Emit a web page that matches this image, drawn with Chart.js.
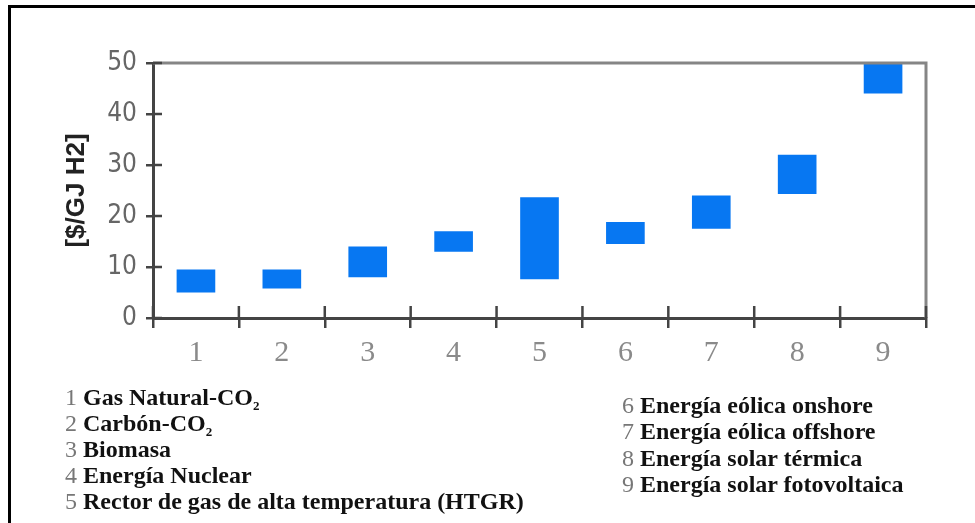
<!DOCTYPE html>
<html>
<head>
<meta charset="utf-8">
<script src="https://cdn.jsdelivr.net/npm/chart.js@4/dist/chart.umd.min.js"></script>
<style>
  html, body { margin: 0; padding: 0; background: #fff; }
  #wrap { position: relative; width: 975px; height: 523px; overflow: hidden; }
  #marco { position: absolute; left: 8px; top: 5px; width: 1000px; height: 600px;
           border-left: 3px solid #000; border-top: 3px solid #000; }
  canvas { position: absolute; left: 0; top: 0; }
  .leyenda { position: absolute; font-family: "Liberation Serif", "Times New Roman", serif;
             font-size: 24px; font-weight: bold; color: #111; white-space: nowrap; }
  .leyenda div { height: 26px; line-height: 26px; }
  #leyDer div { height: 26.3px; }
  .leyenda span.n { color: #777; font-weight: normal; }
  .leyenda sub { font-size: 13px; line-height: 0; vertical-align: -5px; }
</style>
</head>
<body>
<div id="wrap">
  <div id="marco"></div>
  <canvas id="costeChart" width="975" height="523"></canvas>
  <div class="leyenda" id="leyIzq" style="left:65px; top:384px;"></div>
  <div class="leyenda" id="leyDer" style="left:622px; top:392px;"></div>
</div>
<script>
// Datos del gráfico (coste de producción de H2, $/GJ)
const categorias = ['1', '2', '3', '4', '5', '6', '7', '8', '9'];
const costeMin = [5, 5.8, 8, 13, 7.6, 14.5, 17.5, 24.3, 44];
const costeMax = [9.5, 9.5, 14, 17, 23.7, 18.8, 24, 32, 50];
const tecnologias = [
    'Gas Natural-CO<sub>2</sub>',
    'Carbón-CO<sub>2</sub>',
    'Biomasa',
    'Energía Nuclear',
    'Rector de gas de alta temperatura (HTGR)',
    'Energía eólica onshore',
    'Energía eólica offshore',
    'Energía solar térmica',
    'Energía solar fotovoltaica'
];

// Leyenda en dos columnas
const izq = document.getElementById('leyIzq');
const der = document.getElementById('leyDer');
tecnologias.forEach((t, i) => {
    const fila = document.createElement('div');
    fila.innerHTML = `<span class="n">${categorias[i]}</span> ${t}`;
    (i < 5 ? izq : der).appendChild(fila);
});

// Marcas de los ejes hacia dentro + marco gris superior/derecho
const pluginMarco = {
    id: 'marcoGris',
    afterDatasetsDraw(chart) {
        const { ctx, chartArea: { top, bottom, left, right }, scales: { x, y } } = chart;
        ctx.save();
        ctx.strokeStyle = '#858585';
        ctx.lineWidth = 3;
        ctx.beginPath();
        ctx.moveTo(left, top);
        ctx.lineTo(right, top);
        ctx.lineTo(right, bottom);
        ctx.stroke();

        ctx.strokeStyle = '#444';
        ctx.lineWidth = 2.5;
        ctx.beginPath();
        y.ticks.forEach(t => {
            const py = y.getPixelForValue(t.value);
            ctx.moveTo(left, py);
            ctx.lineTo(left + 9, py);
        });
        const paso = x.getPixelForValue(1) - x.getPixelForValue(0);
        for (let i = 0; i <= categorias.length; i++) {
            const px = x.getPixelForValue(0) - paso / 2 + i * paso;
            ctx.moveTo(px, bottom);
            ctx.lineTo(px, bottom - 12);
        }
        ctx.stroke();
        ctx.restore();
    }
};

const ctx = document.getElementById('costeChart');
new Chart(ctx, {
    type: 'bar',
    data: {
        labels: categorias,
        datasets: [{
            data: categorias.map((c, i) => [costeMin[i], costeMax[i]]),
            backgroundColor: '#0777f2',
            borderWidth: 0,
            barPercentage: 0.45,
            categoryPercentage: 1
        }]
    },
    options: {
        responsive: false,
        animation: false,
        layout: { padding: { left: 0, top: 63, right: 49, bottom: 0 } },
        plugins: { legend: { display: false }, tooltip: { enabled: false } },
        scales: {
            x: {
                offset: true,
                grid: { offset: true, drawOnChartArea: false, drawTicks: true, tickLength: 10, color: '#444', lineWidth: 2.5 },
                border: { color: '#444', width: 3 },
                ticks: { color: '#8a8a8a', padding: 7, font: { family: '"Liberation Serif", serif', size: 30 } },
                afterFit: (s) => { s.height = 523 - 318; }
            },
            y: {
                min: 0,
                max: 50,
                ticks: { stepSize: 10, color: '#666', padding: 9, font: { family: '"Liberation Sans Narrow", "DejaVu Sans Condensed", sans-serif', size: 26 } },
                grid: { drawOnChartArea: false, drawTicks: true, tickLength: 7, color: '#444', lineWidth: 2.5 },
                border: { color: '#444', width: 3 },
                title: {
                    display: true,
                    text: '[$/GJ H2]',
                    color: '#222',
                    padding: { top: 61, bottom: 0 },
                    font: { family: '"Liberation Sans", Arial, sans-serif', size: 26, weight: 'bold' }
                },
                afterFit: (s) => { s.width = 153; }
            }
        }
    },
    plugins: [pluginMarco]
});
</script>
</body>
</html>
